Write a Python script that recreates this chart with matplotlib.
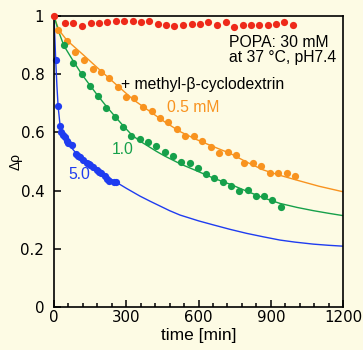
import numpy as np
import matplotlib.pyplot as plt
from matplotlib.ticker import MultipleLocator

plt.rcParams['font.family'] = ['Liberation Sans', 'DejaVu Sans']

# measured points (time in min, delta rho)
t_popa = [0, 46, 80, 118, 152, 187, 221, 257, 292, 327, 360, 396, 431, 465, 500,
          537, 572, 606, 641, 678, 713, 748, 784, 818, 853, 887, 922, 956, 991]
y_popa = [1.0, 0.975, 0.975, 0.966, 0.975, 0.975, 0.978, 0.984, 0.984, 0.983, 0.981,
          0.984, 0.973, 0.969, 0.966, 0.969, 0.971, 0.973, 0.980, 0.969, 0.978, 0.963,
          0.969, 0.969, 0.969, 0.969, 0.971, 0.980, 0.969]

t_05 = [15, 53, 89, 125, 161, 195, 228, 264, 299, 334, 371, 405, 440, 475, 509,
        544, 580, 615, 650, 685, 721, 756, 789, 825, 860, 897, 931, 966, 1001]
y_05 = [0.953, 0.915, 0.876, 0.849, 0.818, 0.809, 0.787, 0.755, 0.723, 0.718, 0.686,
        0.675, 0.649, 0.637, 0.610, 0.588, 0.589, 0.570, 0.551, 0.528, 0.531, 0.521,
        0.496, 0.494, 0.486, 0.459, 0.459, 0.459, 0.449]

t_10 = [42, 79, 115, 148, 183, 217, 252, 286, 321, 356, 390, 425, 459, 494, 529,
        563, 598, 632, 666, 700, 735, 769, 804, 838, 872, 907, 941]
y_10 = [0.899, 0.838, 0.802, 0.758, 0.724, 0.683, 0.652, 0.620, 0.588, 0.578, 0.567,
        0.553, 0.533, 0.519, 0.498, 0.496, 0.479, 0.457, 0.443, 0.428, 0.416, 0.400,
        0.401, 0.383, 0.383, 0.368, 0.345]

t_50 = [7, 17, 25, 30, 36, 46, 53, 60, 73, 91, 100, 108, 122, 136, 145, 150, 163,
        177, 187, 197, 210, 219, 228, 249, 259]
y_50 = [0.849, 0.692, 0.621, 0.600, 0.592, 0.583, 0.572, 0.565, 0.555, 0.525, 0.519,
        0.516, 0.504, 0.494, 0.490, 0.487, 0.480, 0.471, 0.465, 0.461, 0.450, 0.441,
        0.434, 0.428, 0.431]

# fitted curves
tf_05 = [0, 10, 20, 53, 122, 191, 260, 330, 400, 460, 523, 590, 662, 731, 800, 869,
         940, 1008, 1100, 1200]
yf_05 = [1.0, 0.975, 0.952, 0.917, 0.866, 0.814, 0.763, 0.712, 0.671, 0.636, 0.603,
         0.576, 0.551, 0.528, 0.498, 0.471, 0.452, 0.436, 0.415, 0.396]
tf_10 = [0, 10, 20, 41, 80, 115, 150, 183, 218, 252, 286, 321, 355, 390, 425, 459,
         529, 595, 664, 734, 800, 870, 938, 1010, 1077, 1140, 1200]
yf_10 = [1.0, 0.972, 0.945, 0.898, 0.845, 0.800, 0.761, 0.725, 0.689, 0.656, 0.624,
         0.593, 0.571, 0.553, 0.535, 0.519, 0.490, 0.467, 0.442, 0.421, 0.398, 0.375,
         0.356, 0.342, 0.331, 0.322, 0.314]
tf_50 = [0, 7, 12, 17, 25, 35, 50, 75, 100, 125, 150, 175, 200, 230, 260, 300, 357,
         400, 440, 480, 523, 600, 662, 730, 800, 870, 938, 1000, 1077, 1140, 1200]
yf_50 = [1.0, 0.85, 0.76, 0.69, 0.625, 0.595, 0.575, 0.545, 0.52, 0.502, 0.487,
         0.472, 0.458, 0.443, 0.428, 0.408, 0.381, 0.363, 0.347, 0.331, 0.316, 0.296,
         0.282, 0.267, 0.253, 0.241, 0.230, 0.223, 0.216, 0.212, 0.209]

red = '#ee2a1a'
orange = '#f8931f'
green = '#16a04a'
blue = '#1f3cf0'
bg = '#fdfbe4'

fig = plt.figure(figsize=(3.63, 3.5), dpi=100, facecolor=bg)
ax = fig.add_axes([0.1488, 0.1229, 0.7961, 0.8314], facecolor=bg)

ax.plot(tf_05, yf_05, color=orange, lw=1.0)
ax.plot(tf_10, yf_10, color=green, lw=1.0)
ax.plot(tf_50, yf_50, color=blue, lw=1.0)

ms = 5.2
ax.plot(t_05, y_05, 'o', color=orange, ms=ms, mec='none', clip_on=False)
ax.plot(t_10, y_10, 'o', color=green, ms=ms, mec='none', clip_on=False)
ax.plot(t_50, y_50, 'o', color=blue, ms=ms, mec='none', clip_on=False)
ax.plot(t_popa, y_popa, 'o', color=red, ms=ms, mec='none', clip_on=False, zorder=5)

ax.set_xlim(0, 1200)
ax.set_ylim(0, 1)
ax.xaxis.set_major_locator(MultipleLocator(300))
ax.xaxis.set_minor_locator(MultipleLocator(60))
ax.set_yticks([0, 0.2, 0.4, 0.6, 0.8, 1.0])
ax.set_yticklabels(['0', '0.2', '0.4', '0.6', '0.8', '1'])
ax.tick_params(which='both', direction='in', top=False, right=False, width=1.1,
               color='black')
ax.tick_params(which='major', length=5)
ax.tick_params(which='minor', length=3)
ax.tick_params(axis='x', pad=2)
ax.tick_params(axis='y', pad=7)
for lab in ax.get_xticklabels() + ax.get_yticklabels():
    lab.set_fontfamily('DejaVu Sans')
    lab.set_fontsize(10.8)
for s in ax.spines.values():
    s.set_linewidth(1.2)

ax.set_xlabel('time [min]', fontsize=12.5, labelpad=2)
ax.set_ylabel('Δρ', fontsize=10)
ax.yaxis.set_label_coords(-0.107, 0.5)

ax.text(725, 0.935, 'POPA: 30 mM\nat 37 °C, pH7.4', fontsize=11.3, va='top', ha='left',
        linespacing=1.0)
ax.text(278, 0.766, '+ methyl-β-cyclodextrin', fontsize=11.3, va='center', ha='left')
ax.text(469, 0.685, '0.5 mM', fontsize=11.3, va='center', ha='left', color=orange)
ax.text(238, 0.542, '1.0', fontsize=11.3, va='center', ha='left', color=green)
ax.text(58, 0.456, '5.0', fontsize=11.3, va='center', ha='left', color=blue)

fig.savefig('out.png', dpi=100, facecolor=bg)
